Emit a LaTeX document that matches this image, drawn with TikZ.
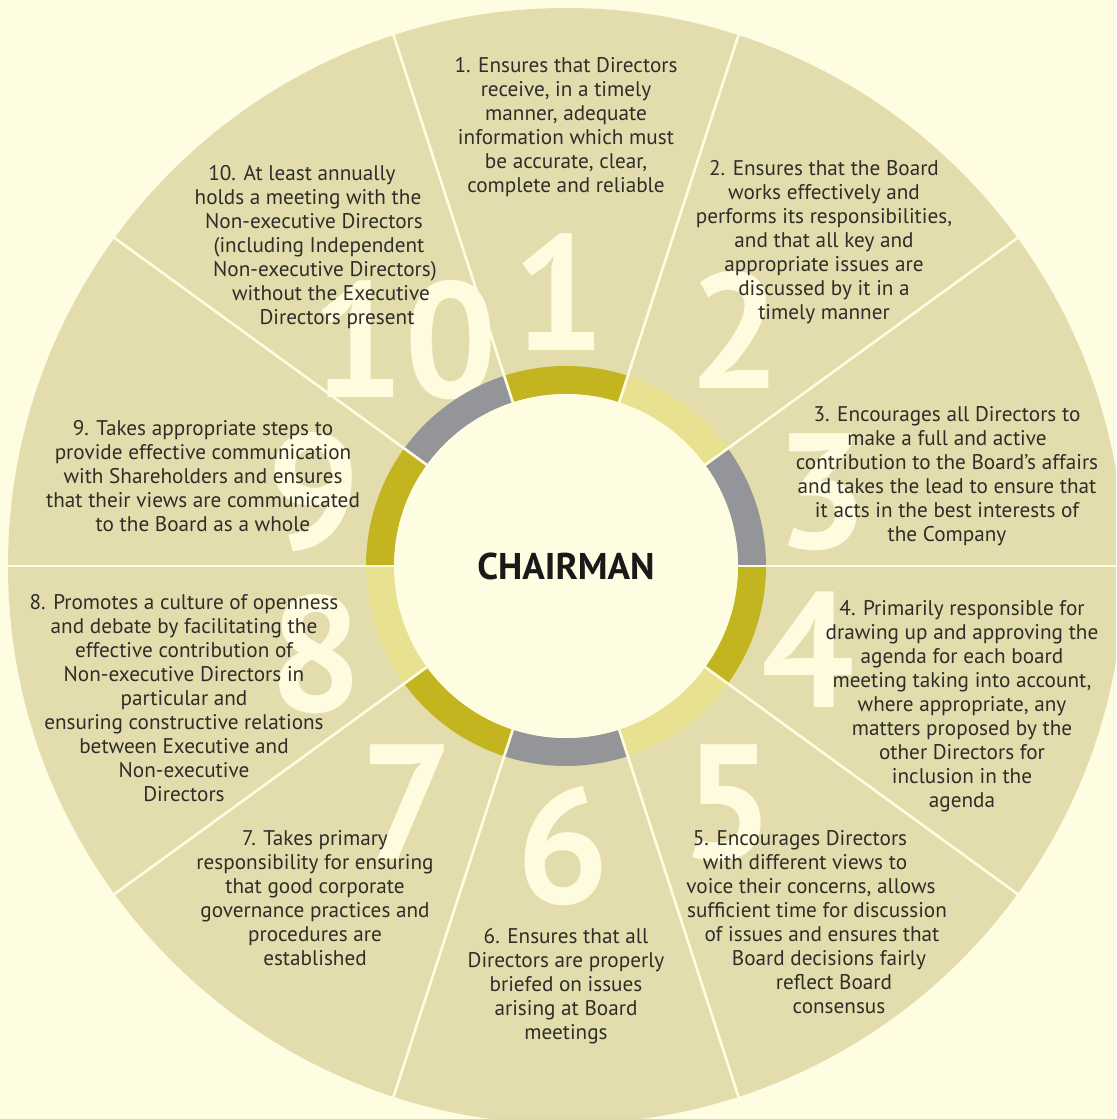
\documentclass[tikz,border=0pt]{standalone}
\usepackage{fontspec}
\setmainfont{PT Sans}
\usetikzlibrary{calc}

\definecolor{bgcream}{HTML}{FEFCE1}
\definecolor{disc}{HTML}{E3DDAD}
\definecolor{olive}{HTML}{C2B520}
\definecolor{pale}{HTML}{E8E18F}
\definecolor{slate}{HTML}{949599}
\definecolor{ink}{HTML}{2E2D29}
\definecolor{numcream}{HTML}{FEFBDF}

% shift one centred line sideways by #1 picture units
\newcommand\lineshift[1]{\hspace*{#1pt}}

\begin{document}
\begin{tikzpicture}[x=0.5pt,y=0.5pt,
  every node/.style={inner sep=0pt},
  item/.style={align=center, font=\fontsize{10.6}{12}\selectfont, text=ink},
  bignum/.style={font=\fontsize{82}{82}\selectfont\bfseries, text=numcream},
  sep/.style={draw=bgcream, line width=1.3pt}]

\useasboundingbox (0,0) rectangle (1116,1119);
\fill[bgcream] (0,0) rectangle (1116,1119);
\clip (0,0) rectangle (1116,1119);

\coordinate (C) at (566,553);

% outer wheel
\fill[disc] (C) circle[radius=558];

% large segment numbers
\node[bignum] (n1)  at (559,827) {1};
\node[bignum] (n2)  at (735,789) {2};
\node[bignum] (n3)  at (822,627) {3};
\node[bignum] (n4)  at (808,469) {4};
\node[bignum] (n5)  at (728,316) {5};
\node[bignum] (n6)  at (563,273) {6};
\node[bignum] (n7)  at (407,317) {7};
\node[bignum] (n8)  at (316,465) {8};
\node[bignum] (n9)  at (314,627) {9};
\node[bignum] (n10) at (404,779) {10};

% coloured ring around the centre
\foreach \a/\col in {0/slate,36/pale,72/olive,108/slate,144/olive,180/pale,216/olive,252/slate,288/pale,324/olive}{
  \pgfmathsetmacro\b{\a+36}
  \fill[\col] ($(C)+(\a:200)$) arc[start angle=\a, end angle=\b, radius=200]
     -- ($(C)+(\b:172)$) arc[start angle=\b, end angle=\a, radius=172] -- cycle;
}

% segment dividers
\foreach \a in {0,36,...,324}{
  \draw[sep] ($(C)+(\a:170)$) -- ($(C)+(\a:565)$);
}

% centre disc
\node[circle, fill=bgcream, minimum size=172pt, font=\fontsize{18.6}{20}\selectfont\bfseries, text=black!90] (chair) at (C) {CHAIRMAN};

% segment texts
\node[item] (t1) at (566,992) {1. Ensures that Directors\\receive, in a timely\\manner, adequate\\information which must\\be accurate, clear,\\complete and reliable};

\node[item] (t2) at (824,877) {2. Ensures that the Board\\works effectively and\\performs its responsibilities,\\and that all key and\\appropriate issues are\\discussed by it in a\\timely manner};

\node[item] (t3) at (947,643) {3. Encourages all Directors to\\make a full and active\\contribution to the Board’s affairs\\and takes the lead to ensure that\\it acts in the best interests of\\the Company};

\node[item] (t4) at (962,413) {4. Primarily responsible for\\drawing up and approving the\\agenda for each board\\meeting taking into account,\\where appropriate, any\\matters proposed by the\\other Directors for\\inclusion in the\\agenda};

\node[item] (t5) at (820,197) {\lineshift{-20}5. Encourages Directors\\\lineshift{-15}with different views to\\\lineshift{-9}voice their concerns, allows\\\lineshift{-3}sufficient time for discussion\\\lineshift{2}of issues and ensures that\\\lineshift{9}Board decisions fairly\\\lineshift{14}reflect Board\\\lineshift{19}consensus};

\node[item] (t6) at (566,133) {6. Ensures that all\\Directors are properly\\briefed on issues\\arising at Board\\meetings};

\node[item] (t7) at (315,221) {7. Takes primary\\responsibility for ensuring\\that good corporate\\governance practices and\\procedures are\\established};

\node[item] (t8) at (184,421) {8. Promotes a culture of openness\\and debate by facilitating the\\effective contribution of\\Non-executive Directors in\\particular and\\ensuring constructive relations\\between Executive and\\Non-executive\\Directors};

\node[item] (t9) at (203,643) {9. Takes appropriate steps to\\provide effective communication\\with Shareholders and ensures\\that their views are communicated\\to the Board as a whole};

\node[item] (t10) at (319,872) {\lineshift{-17}10. At least annually\\\lineshift{-11}holds a meeting with the\\\lineshift{-5}Non-executive Directors\\(including Independent\\\lineshift{6}Non-executive Directors)\\\lineshift{12}without the Executive\\\lineshift{18}Directors present};

\end{tikzpicture}
\end{document}
